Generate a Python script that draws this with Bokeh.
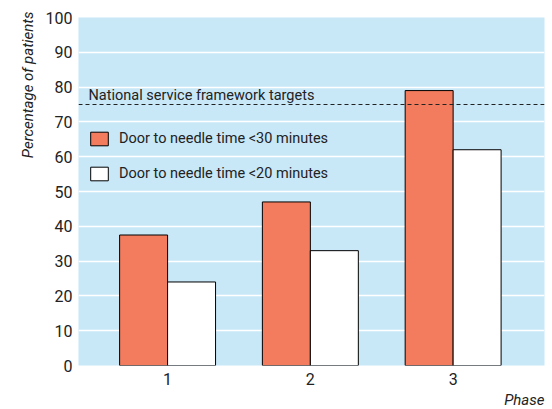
from bokeh.plotting import figure
from bokeh.models import ColumnDataSource, Range1d, FixedTicker, Span, Label, Legend, LegendItem, Title
from bokeh.transform import dodge
from bokeh.embed import file_html
from bokeh.resources import INLINE

phases = [1, 2, 3]
phase_labels = ["1", "2", "3"]
under30 = [37.5, 47, 79]
under20 = [24, 33, 62]
target = 75
series_names = ["Door to needle time <30 minutes", "Door to needle time <20 minutes"]

FONT = "Roboto"
BLUE = "#C8E8F8"
ORANGE = "#F27C5D"

src = ColumnDataSource(dict(x=phases, a=under30, b=under20))

p = figure(width=552, height=409, output_backend="svg", toolbar_location=None,
           x_range=Range1d(0.376, 3.64), y_range=Range1d(0, 100),
           min_border_left=78, min_border_right=8, min_border_top=17, min_border_bottom=44)
p.background_fill_color = BLUE
p.border_fill_color = "white"
p.outline_line_color = None

p.xgrid.grid_line_color = None
p.ygrid.grid_line_color = "white"
p.ygrid.grid_line_width = 1.5
p.ygrid.ticker = FixedTicker(ticks=list(range(0, 101, 10)))

bw = 0.336
r1 = p.vbar(x=dodge("x", -bw / 2, range=p.x_range), top="a", width=bw, source=src,
            fill_color=ORANGE, line_color="black", line_width=1)
r2 = p.vbar(x=dodge("x", bw / 2, range=p.x_range), top="b", width=bw, source=src,
            fill_color="white", line_color="black", line_width=1)

p.add_layout(Span(location=target, dimension="width", line_color="#222222",
                  line_dash="4 3", line_width=1))
p.add_layout(Label(x=10, y=target, x_units="screen", y_units="data", y_offset=1,
                   text="National service framework targets", text_font=FONT,
                   text_font_size="14.5px", text_color="#222222", text_baseline="bottom"))

legend = Legend(items=[LegendItem(label=series_names[0], renderers=[r1]),
                       LegendItem(label=series_names[1], renderers=[r2])],
                location=(10, 183), background_fill_alpha=0, border_line_color=None,
                glyph_width=22, glyph_height=17, label_height=17, spacing=18,
                padding=0, margin=0, label_text_font=FONT, label_text_font_size="14.5px",
                label_standoff=9, label_text_color="#222222")
p.add_layout(legend)

for ax in (p.xaxis, p.yaxis):
    ax.axis_line_color = None
    ax.major_tick_line_color = None
    ax.minor_tick_line_color = None
    ax.major_tick_out = 0
    ax.major_tick_in = 0
    ax.major_label_text_font = FONT
    ax.major_label_text_font_size = "16px"
    ax.major_label_text_color = "#222222"

p.yaxis.ticker = FixedTicker(ticks=list(range(0, 101, 10)))
p.yaxis.major_label_standoff = 6
p.xaxis.ticker = FixedTicker(ticks=phases)
p.xaxis.major_label_overrides = {ph: lab for ph, lab in zip(phases, phase_labels)}
p.xaxis.major_label_standoff = 7

p.add_layout(Title(text="Phase", align="right", text_font=FONT, text_font_style="italic",
                   text_font_size="15px", text_color="#222222", offset=0,
                   standoff=2), "below")
p.add_layout(Title(text="Percentage of patients", align="right", text_font=FONT,
                   text_font_style="italic", text_font_size="15px", text_color="#222222",
                   offset=-6, standoff=12), "left")

open("out.html", "w").write(file_html(p, INLINE))
